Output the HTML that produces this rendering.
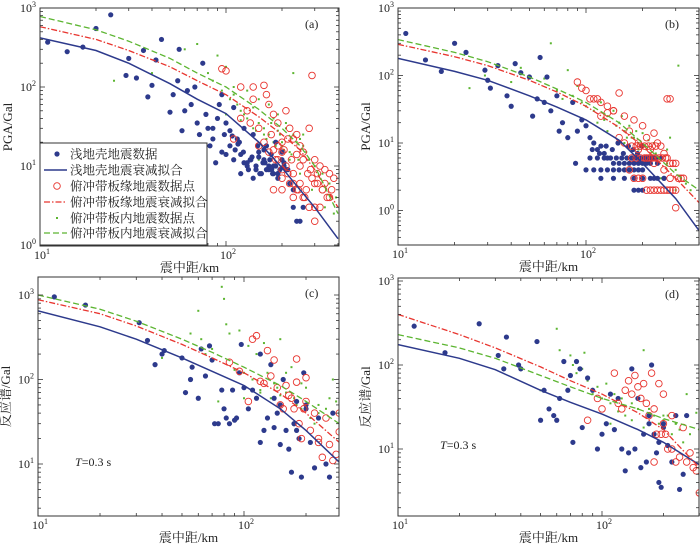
<!DOCTYPE html>
<html><head><meta charset="utf-8">
<style>
html,body{margin:0;padding:0;background:#fff;}
svg{display:block;font-family:"Liberation Serif","Noto Serif CJK SC",serif;}
</style></head>
<body>
<svg id="chart" width="700" height="545" viewBox="0 0 700 545" xmlns="http://www.w3.org/2000/svg"></svg>
<script>
// ---------- data ----------
const aBlueD=[11,14,17,20,24,29,30,33,36,38,40,42,45,50,52,55,56,58,60,62,65,68,70,72,75,78,80,82,85,88,90,92,95,98,100,105,110,115,120,125,130,135,140,145,150,155,160,165,170,175,180,185,190,200,210,220,230,240,250,260,120,130,140,150,160,170,180,190,200,215,230,110,95,85,105,112,118,125,132,138,145,152,158,165,172,178,185,195,205,100,108,116,124,136,148,162,176,190,205];
const aBlueV=[370,280,320,550,820,140,230,130,290,75,105,220,400,48,80,120,300,28,50,90,60,100,35,25,200,45,30,18,22,11,40,60,15,25,35,18,12,22,14,30,10,12,25,9,15,8,12,18,9,14,10,20,8,15,9,6,3,2,2,3,8,11,7,13,16,10,8,7,12,9,5,55,80,30,28,16,20,11,9,13,10,8,11,9,12,8,10,9,11,14,24,19,15,12,18,11,9,8,10];
const aRedD=[95,100,110,120,130,140,150,160,170,175,180,190,200,210,220,230,240,250,260,280,300,320,340,360,380,150,170,190,210,230,250,270,290,310,330,350,200,220,240,260,280,300,120,135,160,180,200,225,250,275,300,330,360,180,200,230,290,140,165,185,190,205,215,240,260,285,310,340,370,200,215,230,245,265,300,320];
const aRedV=[170,160,22,100,50,70,30,105,60,25,45,35,20,50,30,22,25,18,15,30,12,10,9,8,7,18,15,12,10,8,6,5,7,6,5,4,9,6,5,4,3,3,40,35,20,16,15,12,10,8,6,5,4,5,5,4,140,100,80,12,18,16,22,14,12,9,8,6,5,7,8,6,5,4,2,3];
const aGreenD=[25,40,60,70,75,80,85,90,95,100,105,110,115,120,125,130,140,150,160,170,180,190,200,210,220,240,260,280,300,330,360,390,110,130,150,170,190,210,230,250,270,100,120,140,160,180,200,220,250,290,340,380,230,260,150,145,165,185,205,225,245,175,195];
const aGreenV=[120,150,300,350,200,150,120,250,90,180,70,80,60,50,45,40,55,35,30,25,40,28,20,30,15,20,18,12,10,8,6,4,100,90,70,60,45,35,25,22,15,45,38,30,25,20,18,12,8,5,3,2.5,150,25,12,28,22,18,16,14,12,35,25];
const aFitD=[10,20,30,50,70,100,150,200,250,300,400];
const aFitBlue=[420,290,200,110,70,46,20,9.5,5,3,1.2];
const aFitRed=[580,400,290,180,120,80,42,25,16,9,3];
const aFitGreen=[780,530,380,230,150,100,52,30,18,10,2.5];

const bBlueD=[11,14,17,20,23,29,30,31,34,38,40,42,45,50,52,55,57,60,62,65,70,72,75,80,85,88,90,95,100,105,110,115,120,125,130,140,150,160,170,180,190,200,210,220,240,100,110,120,130,140,150,160,170,180,190,200,220,240,260,120,140,160,180,200,230,260,180,190,200,105,115,125,135,145,155,165,175,185,195,205,215,225,235,250,108,118,128,138,148,158,168,178,188,198];
const bBlueV=[420,170,115,300,220,120,85,65,140,50,35,150,110,95,25,45,185,40,95,30,50,15,20,12,40,5,15,22,18,12,10,8,9,7,6,5,5,5,5,5,5,5,5,5,5,4,4,4,4,4,4,4,4,4,4,4,3,3,3,3,3,3,3,3,3,3,2,2,2,6,6,6,6,6,6,6,6,6,6,6,6,6,6,6,8,7,9,8,10,7,9,8,7,9];
const bRedD=[90,95,100,105,110,115,120,130,140,150,160,170,180,190,200,210,220,230,240,250,260,270,280,290,300,310,320,330,170,180,190,200,210,220,230,240,250,260,270,280,290,300,150,160,190,210,230,260,280,300,140,130,120,280,270,175,185,195,205,215,225,235,245,255,265,175,185,195,205,215,225,235];
const bRedV=[80,65,60,45,45,45,40,35,30,55,25,15,22,10,18,12,8,14,10,9,7,6,5,5,5,3,3,3,4,3,3,3,2,2,2,2,2,2,2,2,2,2,12,10,8,6,5,4,3,1.1,30,28,25,45,45,6,6,6,6,6,6,6,6,6,6,9,9,9,9,9,9,9];
const bGreenD=[24,29,40,45,50,60,65,70,75,80,85,90,95,100,110,120,130,140,150,160,170,180,190,200,210,220,230,250,270,300,320,340,360,130,160,190,220,250,280,310,115,125,145,175,205,240,270,300,155,165,185,195,215,235];
const bGreenV=[65,100,80,130,100,90,300,60,45,120,50,70,40,35,30,40,25,30,20,15,18,12,10,14,8,7,10,6,5,4,3,2.5,2,15,10,8,5,3,12,140,20,22,18,12,9,6,8,2,25,12,15,9,11,7];
const bFitD=[10,20,30,50,70,100,150,200,300,400];
const bFitBlue=[180,115,85,50,34,22,11,5,1.5,0.5];
const bFitRed=[290,190,140,85,57,35,17,9,3,1.3];
const bFitGreen=[340,220,160,95,63,40,20,10,3.5,2];

const cBlueD=[12,17,31,34,37,40,41,50,52,55,56,60,62,65,68,70,72,75,78,80,82,85,88,90,92,95,97,100,105,110,115,120,125,130,135,140,145,150,155,160,165,170,175,180,185,190,195,200,210,220,230,250,260,270,150,180,200,175,120,140];
const cBlueV=[950,760,470,290,150,200,220,180,70,100,140,60,230,110,250,170,30,30,75,45,35,30,75,33,35,120,260,80,45,75,60,200,25,35,150,60,40,50,100,25,15,8,30,55,20,7,120,45,18,9,35,10,7,40,17,25,50,30,18,27];
const cRedD=[85,95,105,110,115,120,125,130,135,140,145,150,155,160,165,170,175,180,185,190,195,200,210,220,230,240,250,260,270,280,290,290,230,200,180];
const cRedV=[160,125,55,300,330,95,90,220,110,170,80,50,45,85,65,60,45,175,30,20,45,105,25,40,20,12,35,17,11,13,40,24,18,55,93];
const cGreenD=[40,55,60,62,65,70,75,78,80,82,85,90,95,100,105,110,115,120,125,130,135,140,145,150,160,170,175,180,190,200,210,220,230,250,260,270,280,290,100,120,150,190,230,160];
const cGreenV=[180,350,650,300,200,230,55,1250,900,450,350,130,380,120,250,100,200,75,270,120,60,90,80,65,70,140,60,50,45,80,35,30,50,45,60,100,55,40,60,70,300,90,40,120];
const cFitD=[10,20,30,50,70,100,150,200,290];
const cFitBlue=[650,420,300,180,125,85,45,25,10.5];
const cFitRed=[880,600,430,260,180,120,68,40,18];
const cFitGreen=[1000,680,490,300,210,140,85,55,30];

const dBlueD=[12,17,25,31,33,34,39,40,48,50,52,55,58,60,62,65,68,70,72,75,78,80,85,90,95,100,105,110,115,120,125,130,135,140,145,150,155,160,165,170,175,180,185,190,195,200,210,220,230,240,250,260,170,190,200];
const dBlueV=[290,140,310,130,90,215,100,90,190,22,50,30,25,22,40,110,50,75,12,110,90,18,70,50,10,15,20,45,17,40,10,5.5,9,90,10,40,6,15,7,20,100,15,9,4,3.5,20,11,7,25,3.3,5,25,25,12,18];
const dRedD=[85,95,100,115,120,125,130,135,140,145,150,155,160,165,170,175,180,185,190,195,200,205,210,220,230,240,250,260,270,280,290,300,180,200,220];
const dRedV=[22,40,30,80,35,30,50,65,45,75,55,40,60,35,25,80,30,15,60,15,45,15,10,10,7,8,18,7,9,6,5.5,3,7,20,25];
const dGreenD=[50,60,62,70,72,75,80,82,85,90,95,100,105,110,115,120,125,130,140,150,160,170,180,190,200,210,220,230,240,250,260,270,290,300,110,140,160,180,200,230];
const dGreenV=[50,270,150,130,100,80,90,140,65,45,55,40,60,35,45,28,40,25,35,30,150,30,25,20,22,25,15,20,17,12,45,15,27,17,20,22,18,15,25,20];
const dFitD=[10,20,30,50,70,100,150,200,300];
const dFitBlue=[175,120,88,50,36,26,17,12,6.5];
const dFitRed=[400,230,160,95,65,45,27,17,6];
const dFitGreen=[230,160,120,75,55,40,30,23,17];

// ---------- drawing ----------
const NS="http://www.w3.org/2000/svg";
const svg=document.getElementById('chart');
function mk(tag,attrs,parent){const e=document.createElementNS(NS,tag);for(const k in attrs)e.setAttribute(k,attrs[k]);(parent||svg).appendChild(e);return e;}
const BLUE="#2d3a8c",RED="#e8352f",GREEN="#5cb531";

const panels=[
 {id:'a',L:40,R:339,T:8,B:246,x10:40,xdec:186,y1k:8,ydec:79,ylab:'PGA/Gal',tag:'(a)',
  series:[[aBlueD,aBlueV],[aRedD,aRedV],[aGreenD,aGreenV]],fit:[aFitD,aFitBlue,aFitRed,aFitGreen],ylo:0,yhi:3,yTicks:[0,1,2,3]},
 {id:'b',L:398,R:699,T:8,B:245,x10:398,xdec:188,y1k:8,ydec:67.5,ylab:'PGA/Gal',tag:'(b)',
  series:[[bBlueD,bBlueV],[bRedD,bRedV],[bGreenD,bGreenV]],fit:[bFitD,bFitBlue,bFitRed,bFitGreen],ylo:-1,yhi:3,yTicks:[0,1,2,3]},
 {id:'c',L:38,R:339,T:277,B:516,x10:38,xdec:206,y1k:295,ydec:84.5,ylab:'反应谱/Gal',tag:'(c)',
  series:[[cBlueD,cBlueV],[cRedD,cRedV],[cGreenD,cGreenV]],fit:[cFitD,cFitBlue,cFitRed,cFitGreen],ylo:0,yhi:4,yTicks:[1,2,3],T03:[75,466]},
 {id:'d',L:398,R:699,T:278,B:516,x10:398,xdec:204,y1k:281,ydec:84,ylab:'反应谱/Gal',tag:'(d)',
  series:[[dBlueD,dBlueV],[dRedD,dRedV],[dGreenD,dGreenV]],fit:[dFitD,dFitBlue,dFitRed,dFitGreen],ylo:0,yhi:4,yTicks:[1,2,3],T03:[440,449]}
];

panels.forEach(p=>{
  const sx=d=>p.x10+(Math.log10(d)-1)*p.xdec;
  const sy=v=>p.y1k+(3-Math.log10(v))*p.ydec;
  const g=mk('g',{});
  
  
  const clip=mk('clipPath',{id:'clip-'+p.id},g);
  mk('rect',{x:p.L,y:p.T,width:p.R-p.L,height:p.B-p.T},clip);
  const plot=mk('g',{'clip-path':'url(#clip-'+p.id+')'},g);
  const [gD,gV]=p.series[2];
  gD.forEach((d,i)=>{const r=mk('rect',{x:sx(d)-1,y:sy(gV[i])-1,width:2,height:2,fill:GREEN},plot);
    
    });
  const [bD,bV]=p.series[0];
  bD.forEach((d,i)=>{const c=mk('circle',{cx:sx(d),cy:sy(bV[i]),r:2.6,fill:BLUE},plot);
    
    });
  const [rD,rV]=p.series[1];
  rD.forEach((d,i)=>{const c=mk('circle',{cx:sx(d),cy:sy(rV[i]),r:3.3,fill:'none',stroke:RED,'stroke-width':0.9},plot);
    
    });
  const [fD,fB,fR,fG]=p.fit;
  const path=arr=>fD.map((d,i)=>(i?'L':'M')+sx(d).toFixed(1)+','+sy(arr[i]).toFixed(1)).join('');
  const lb=mk('path',{d:path(fB),fill:'none',stroke:BLUE,'stroke-width':1.5},plot);
  
  
  const lr=mk('path',{d:path(fR),fill:'none',stroke:RED,'stroke-width':1.3,'stroke-dasharray':'6,2,1.5,2'},plot);
  
  
  const lg=mk('path',{d:path(fG),fill:'none',stroke:GREEN,'stroke-width':1.3,'stroke-dasharray':'6,3'},plot);
  
  
  const fr=mk('rect',{x:p.L,y:p.T,width:p.R-p.L,height:p.B-p.T,fill:'none',stroke:'#333','stroke-width':1},g);
  
  
  const tk=mk('g',{stroke:'#333','stroke-width':0.8},g);
  for(let e=1;e<=3;e++)for(let m=1;m<10;m++){const d=m*Math.pow(10,e);const x=sx(d);if(x<p.L-0.5||x>p.R+0.5)continue;const len=m===1?5:3;
    mk('line',{x1:x,y1:p.B,x2:x,y2:p.B-len},tk);mk('line',{x1:x,y1:p.T,x2:x,y2:p.T+len},tk);}
  for(let e=p.ylo;e<p.yhi;e++)for(let m=1;m<10;m++){const v=m*Math.pow(10,e);const y=sy(v);if(y<p.T-0.5||y>p.B+0.5)continue;const len=m===1?5:3;
    mk('line',{x1:p.L,y1:y,x2:p.L+len,y2:y},tk);mk('line',{x1:p.R,y1:y,x2:p.R-len,y2:y},tk);}
  [1,2].forEach(e=>{const t=mk('text',{x:sx(Math.pow(10,e))-6,y:p.B+13,'font-size':12,fill:'#222'},g);
    
    
    t.textContent='10';const s=mk('tspan',{dy:-5,'font-size':8},t);s.textContent=String(e);});
  p.yTicks.forEach(e=>{const t=mk('text',{x:p.L-20,y:sy(Math.pow(10,e))+4,'font-size':12,fill:'#222'},g);
    
    
    t.textContent='10';const s=mk('tspan',{dy:-5,'font-size':8},t);s.textContent=String(e);});
  const xt=mk('text',{x:(p.L+p.R)/2,y:p.B+26,'font-size':13,'text-anchor':'middle',fill:'#222'},g);
  
  
  xt.textContent='震中距/km';
  const yx=p.L-28,yy=(p.T+p.B)/2;
  const yt=mk('text',{x:yx,y:yy,'font-size':13,'text-anchor':'middle',fill:'#222',transform:'rotate(-90 '+yx+' '+yy+')'},g);
  
  
  yt.textContent=p.ylab;
  const pt=mk('text',{x:p.R-34,y:p.T+20,'font-size':12,fill:'#222'},g);
  
  
  pt.textContent=p.tag;
  if(p.T03){const t=mk('text',{x:p.T03[0],y:p.T03[1],'font-size':12,fill:'#222'},g);
    
    
    const i=mk('tspan',{'font-style':'italic'},t);i.textContent='T';const r=mk('tspan',{},t);r.textContent='=0.3 s';}
});

const lgd=mk('g',{});


mk('rect',{x:40,y:143,width:167,height:102,fill:'#fff',stroke:'#333','stroke-width':1},lgd);
const legendLabels=['浅地壳地震数据','浅地壳地震衰减拟合','俯冲带板缘地震数据点','俯冲带板缘地震衰减拟合','俯冲带板内地震数据点','俯冲带板内地震衰减拟合'];
const legendY=[154,170,186,202,218,233];
legendLabels.forEach((lab,i)=>{
  const y=legendY[i];
  const e=mk('g',{},lgd);
  
  
  if(i===0)mk('circle',{cx:57,cy:y,r:2.6,fill:BLUE},e);
  if(i===1)mk('line',{x1:44,y1:y,x2:67,y2:y,stroke:BLUE,'stroke-width':1.5},e);
  if(i===2)mk('circle',{cx:57,cy:y,r:3.3,fill:'none',stroke:RED,'stroke-width':0.9},e);
  if(i===3)mk('line',{x1:44,y1:y,x2:67,y2:y,stroke:RED,'stroke-width':1.3,'stroke-dasharray':'6,2,1.5,2'},e);
  if(i===4)mk('rect',{x:56,y:y-1,width:2,height:2,fill:GREEN},e);
  if(i===5)mk('line',{x1:44,y1:y,x2:67,y2:y,stroke:GREEN,'stroke-width':1.3,'stroke-dasharray':'6,3'},e);
  const t=mk('text',{x:70,y:y+4.5,'font-size':12.5,fill:'#222'},e);
  t.textContent=lab;
});
</script>
</body></html>
